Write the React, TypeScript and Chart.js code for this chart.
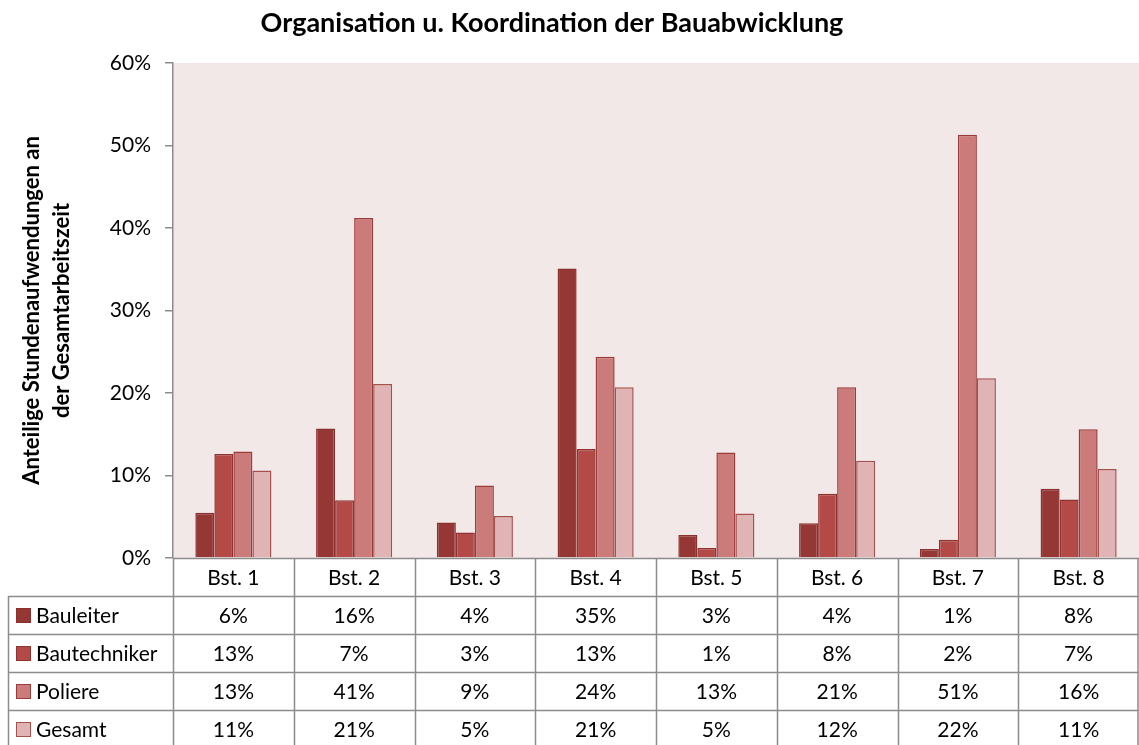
import React, { useEffect, useRef } from 'react';
import { Chart, registerables } from 'chart.js';

Chart.register(...registerables);

const chartTitle = 'Organisation u. Koordination der Bauabwicklung';
const yAxisTitle = ['Anteilige Stundenaufwendungen an', 'der Gesamtarbeitszeit'];
const categories = ['Bst. 1', 'Bst. 2', 'Bst. 3', 'Bst. 4', 'Bst. 5', 'Bst. 6', 'Bst. 7', 'Bst. 8'];
const seriesNames = ['Bauleiter', 'Bautechniker', 'Poliere', 'Gesamt'];
const bauleiter = [5.5, 15.7, 4.3, 35.1, 2.8, 4.2, 1.1, 8.4];
const bautechniker = [12.6, 7.0, 3.1, 13.2, 1.2, 7.8, 2.2, 7.1];
const poliere = [12.9, 41.2, 8.8, 24.4, 12.8, 20.7, 51.3, 15.6];
const gesamt = [10.6, 21.1, 5.1, 20.7, 5.4, 11.8, 21.8, 10.8];
const yTicks = [0, 10, 20, 30, 40, 50, 60];

const fills = ['#953735', '#b34a47', '#cc7b7b', '#e0b4b5'];
const borders = ['#8a302e', '#8f3331', '#9b3b39', '#a6504e'];

const FONT = 'Lato, "Open Sans", sans-serif';
const GRID = '#8c8c8c';

const tablePlugin = {
  id: 'dataTable',
  beforeDraw(chart: any) {
    const { ctx, chartArea } = chart;
    ctx.save();
    ctx.fillStyle = '#f2e8e8';
    ctx.fillRect(chartArea.left, chartArea.top, chartArea.right - chartArea.left, chartArea.bottom - chartArea.top);
    ctx.fillStyle = '#000';
    ctx.font = `bold 27px ${FONT}`;
    ctx.textAlign = 'center';
    ctx.textBaseline = 'middle';
    ctx.fillText(chartTitle, 552, 23);
    ctx.restore();
  },
  afterDraw(chart: any) {
    const { ctx, chartArea } = chart;
    const xs = chart.scales.x;
    const left = chartArea.left;
    const right = chartArea.right;
    const top = chartArea.bottom;
    const n = categories.length;
    const w = (right - left) / n;
    const rowH = 38;
    const tableLeft = 8.5;
    const rows = seriesNames.length;
    ctx.save();
    ctx.strokeStyle = GRID;
    ctx.lineWidth = 1.5;
    ctx.beginPath();
    for (let r = 0; r <= rows + 1; r++) {
      const y = Math.round(top + r * rowH) + 0.5;
      ctx.moveTo(r === 0 ? left : tableLeft, y);
      ctx.lineTo(right, y);
    }
    for (let i = 0; i <= n; i++) {
      const x = Math.min(Math.round(left + i * w) + 0.5, right - 1);
      ctx.moveTo(x, top);
      ctx.lineTo(x, top + (rows + 1) * rowH);
    }
    ctx.moveTo(tableLeft, top + rowH);
    ctx.lineTo(tableLeft, top + (rows + 1) * rowH);
    ctx.stroke();

    ctx.fillStyle = '#000';
    ctx.font = `21px ${FONT}`;
    ctx.textBaseline = 'middle';
    ctx.textAlign = 'center';
    categories.forEach((c, i) => {
      ctx.fillText(c, xs.getPixelForValue(i), top + rowH / 2 + 1);
    });
    chart.data.datasets.forEach((ds: any, r: number) => {
      const yc = top + (r + 1) * rowH + rowH / 2 + 1;
      ctx.textAlign = 'center';
      ctx.fillStyle = '#000';
      ds.data.forEach((v: number, i: number) => {
        ctx.fillText(Math.round(v) + '%', xs.getPixelForValue(i), yc);
      });
      ctx.fillStyle = ds.backgroundColor;
      ctx.fillRect(16, yc - 8, 15, 15);
      ctx.strokeStyle = ds.borderColor;
      ctx.lineWidth = 1;
      ctx.strokeRect(16.5, yc - 7.5, 14, 14);
      ctx.fillStyle = '#000';
      ctx.textAlign = 'left';
      ctx.fillText(ds.label, 36, yc);
    });
    ctx.restore();
  },
};

export default function App() {
  const ref = useRef<HTMLCanvasElement | null>(null);
  useEffect(() => {
    if (!ref.current) return;
    const series = [bauleiter, bautechniker, poliere, gesamt];
    const chart = new Chart(ref.current, {
      type: 'bar',
      data: {
        labels: categories,
        datasets: series.map((d, i) => ({
          label: seriesNames[i],
          data: d,
          backgroundColor: fills[i],
          borderColor: borders[i],
          borderWidth: 1.5,
          barPercentage: 1,
          categoryPercentage: 0.63,
        })),
      },
      options: {
        animation: false,
        responsive: false,
        devicePixelRatio: 1,
        layout: { padding: { top: 63, right: 0, bottom: 187, left: 0 } },
        plugins: {
          legend: { display: false },
          tooltip: { enabled: false },
          title: { display: false },
        },
        scales: {
          x: { display: false },
          y: {
            min: 0,
            max: 60,
            afterFit: (s: any) => { s.width = 173; },
            afterBuildTicks: (s: any) => { s.ticks = yTicks.map((v) => ({ value: v })); },
            ticks: {
              color: '#000',
              font: { family: FONT, size: 21 },
              padding: 14,
              callback: (v: any) => v + '%',
            },
            grid: { drawOnChartArea: false, drawTicks: true, tickLength: 8, color: GRID, lineWidth: 1.5 },
            border: { display: true, color: GRID, width: 1.5 },
            title: {
              display: true,
              text: yAxisTitle,
              color: '#000',
              font: { family: FONT, size: 22, weight: 'bold', lineHeight: '30px' },
              padding: { top: 17, bottom: 0 },
            },
          },
        },
      },
      plugins: [tablePlugin],
    });
    return () => chart.destroy();
  }, []);
  return (
    <div style={{ position: 'fixed', left: 0, top: 0, width: 1139, height: 745, background: '#fff' }}>
      <canvas ref={ref} width={1139} height={745} style={{ display: 'block' }} />
    </div>
  );
}
